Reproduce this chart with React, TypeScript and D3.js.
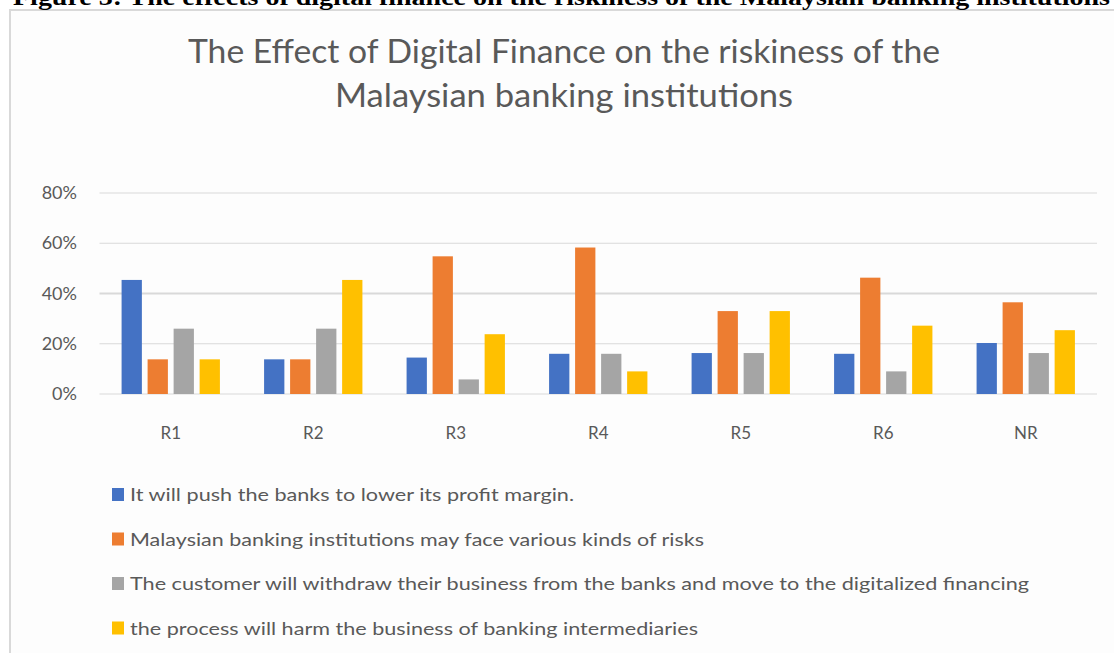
import React from "react";
import * as d3 from "d3";

const categories = ["R1", "R2", "R3", "R4", "R5", "R6", "NR"];
const seriesNames = [
  "It will push the banks to lower its profit margin.",
  "Malaysian banking institutions may face various kinds of risks",
  "The customer will withdraw their business from the banks and move to the digitalized financing",
  "the process will harm the business of banking intermediaries",
];
const profitMargin = [45.4, 13.8, 14.5, 16.0, 16.3, 16.0, 20.3];
const variousRisks = [13.8, 13.8, 54.8, 58.3, 33.0, 46.3, 36.5];
const withdrawBusiness = [26.0, 26.0, 5.8, 16.0, 16.3, 9.0, 16.3];
const harmIntermediaries = [13.8, 45.4, 23.8, 9.0, 33.0, 27.2, 25.4];
const yTicks = [0, 20, 40, 60, 80];
const titleLines = [
  "The Effect of Digital Finance on the riskiness of the",
  "Malaysian banking institutions",
];
const caption =
  "Figure 3: The effects of digital finance on the riskiness of the Malaysian banking institutions";

const seriesValues = [profitMargin, variousRisks, withdrawBusiness, harmIntermediaries];
const colors = ["#4472C4", "#ED7D31", "#A5A5A5", "#FFC000"];
const legendWidths = [444, 574, 899, 568];
const titleWidths = [752, 458];

export default function App() {
  const W = 1114;
  const H = 653;
  const x0 = d3.scaleBand<string>().domain(categories).range([99.5, 1097]).paddingInner(0.31).paddingOuter(0.155);
  const x1 = d3
    .scaleBand<number>()
    .domain(d3.range(seriesNames.length))
    .range([0, x0.bandwidth()])
    .paddingInner(0.22);
  const y = d3.scaleLinear().domain([0, 80]).range([394, 193]);
  const font = "Lato, Calibri, 'Open Sans', sans-serif";
  const textColor = "#595959";
  const xStep = d3.scaleBand<string>().domain(categories).range([99.5, 1097]);

  return (
    <svg
      width={W}
      height={H}
      style={{ position: "absolute", left: 0, top: 0, background: "#ffffff" }}
    >
      <rect x={10} y={10} width={W} height={H} fill="#fdfdfd" stroke="#d9d9d9" strokeWidth={2} />
      <text
        x={13}
        y={5}
        fontFamily="'Liberation Serif', 'Times New Roman', serif"
        fontWeight="bold"
        fontSize={24}
        fill="#000"
        textLength={1097}
        lengthAdjust="spacingAndGlyphs"
      >
        {caption}
      </text>
      {titleLines.map((t, i) => (
        <text
          key={t}
          x={564}
          y={63 + i * 44}
          textAnchor="middle"
          fontFamily={font}
          fontSize={32}
          fill={textColor}
          textLength={titleWidths[i]}
          lengthAdjust="spacingAndGlyphs"
        >
          {t}
        </text>
      ))}
      {yTicks.map((t) => (
        <g key={t}>
          <line
            x1={99.5}
            x2={1097}
            y1={y(t)}
            y2={y(t)}
            stroke="#d9d9d9"
            strokeWidth={t === 40 ? 2 : 1}
          />
          <text
            x={77}
            y={y(t) + 6}
            textAnchor="end"
            fontFamily={font}
            fontSize={18}
            fill={textColor}
          >
            {t}%
          </text>
        </g>
      ))}
      {categories.map((c, ci) => (
        <g key={c} transform={`translate(${x0(c)},0)`}>
          {seriesValues.map((vals, si) => (
            <rect
              key={si}
              x={x1(si)}
              y={y(vals[ci])}
              width={x1.bandwidth()}
              height={y(0) - y(vals[ci])}
              fill={colors[si]}
            />
          ))}
        </g>
      ))}
      {categories.map((c) => (
        <text
          key={c}
          x={(xStep(c) as number) + xStep.bandwidth() / 2}
          y={439}
          textAnchor="middle"
          fontFamily={font}
          fontSize={17}
          fill={textColor}
        >
          {c}
        </text>
      ))}
      {seriesNames.map((s, i) => (
        <g key={s} transform={`translate(0,${495 + i * 44.5})`}>
          <rect x={112} y={-7} width={12} height={13} fill={colors[i]} />
          <text
            x={130}
            y={6}
            fontFamily={font}
            fontSize={18}
            fill={textColor}
            textLength={legendWidths[i]}
            lengthAdjust="spacingAndGlyphs"
          >
            {s}
          </text>
        </g>
      ))}
    </svg>
  );
}
